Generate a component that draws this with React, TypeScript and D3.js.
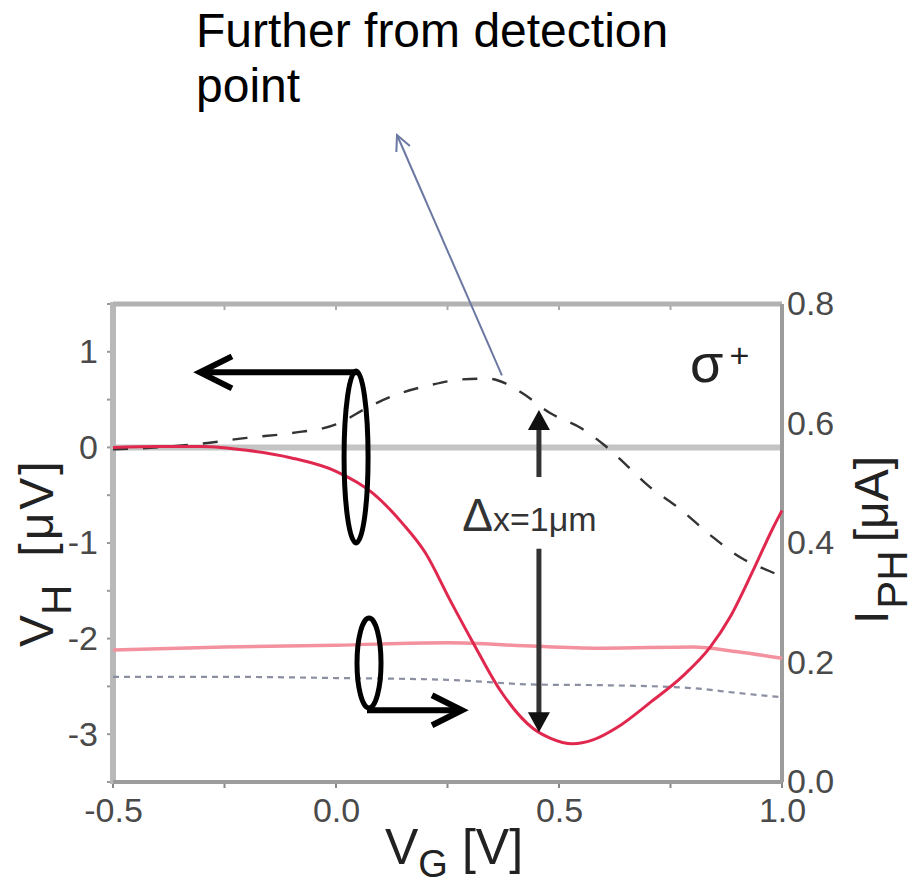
import * as d3 from "d3";
import { useEffect, useRef } from "react";

// V_H traces (left axis)
const nearX = [-0.5, -0.4, -0.3, -0.2, -0.1, 0.0, 0.083, 0.15, 0.2, 0.256, 0.307, 0.368, 0.442, 0.48, 0.531, 0.576, 0.63, 0.704, 0.778, 0.839, 0.883, 0.935, 0.98, 1.0];
const nearVH = [0.0, 0.01, 0.01, -0.03, -0.11, -0.25, -0.48, -0.8, -1.1, -1.6, -2.04, -2.54, -2.94, -3.04, -3.1, -3.06, -2.93, -2.67, -2.39, -2.09, -1.78, -1.29, -0.84, -0.66];

const farX = [-0.5, -0.4, -0.3, -0.2, -0.1, 0.0, 0.08, 0.14, 0.21, 0.28, 0.34, 0.38, 0.42, 0.48, 0.55, 0.6, 0.65, 0.7, 0.77, 0.84, 0.91, 0.97, 1.0];
const farVH = [-0.02, 0.0, 0.04, 0.1, 0.15, 0.24, 0.44, 0.56, 0.65, 0.71, 0.72, 0.67, 0.56, 0.36, 0.2, 0.03, -0.18, -0.4, -0.64, -0.92, -1.16, -1.29, -1.35];

// photocurrent traces (right axis)
const iphX = [-0.5, -0.25, 0.0, 0.25, 0.45, 0.6, 0.8, 0.9, 1.0];
const nearIPH = [0.221, 0.226, 0.229, 0.233, 0.227, 0.224, 0.226, 0.218, 0.207];
const farIPH = [0.176, 0.176, 0.174, 0.171, 0.163, 0.162, 0.157, 0.149, 0.142];

const xTicks = [-0.5, 0.0, 0.5, 1.0];
const xMinor = [-0.5, -0.25, 0, 0.25, 0.5, 0.75, 1.0];
const vhTicks = [-3, -2, -1, 0, 1];
const vhMinor = [-3.5, -3, -2.5, -2, -1.5, -1, -0.5, 0, 0.5, 1, 1.5];
const iphTicks = [0.0, 0.2, 0.4, 0.6, 0.8];

function App() {
    const ref = useRef<SVGSVGElement>(null);

    useEffect(() => {
        const svg = d3.select(ref.current);
        svg.selectAll("*").remove();

        const width = 917;
        const height = 888;
        const margin = { top: 304, right: 135, bottom: 106, left: 113 };
        const font = "'Liberation Sans', Arial, Helvetica, sans-serif";
        const tickColor = "#4a4a4a";

        const x = d3.scaleLinear().domain([-0.5, 1]).range([margin.left, width - margin.right]);
        const yL = d3.scaleLinear().domain([-3.5, 1.5]).range([height - margin.bottom, margin.top]);
        const yR = d3.scaleLinear().domain([0, 0.8]).range([height - margin.bottom, margin.top]);

        const x0 = x(-0.5), x1 = x(1), yTop = yL(1.5), yBot = yL(-3.5);

        // zero line
        svg.append("line")
            .attr("x1", x0).attr("x2", x1)
            .attr("y1", yL(0)).attr("y2", yL(0))
            .attr("stroke", "#c4c4c4").attr("stroke-width", 6);

        // minor ticks
        svg.append("g").selectAll("line").data(xMinor).enter().append("line")
            .attr("x1", (d) => x(d)).attr("x2", (d) => x(d))
            .attr("y1", yBot).attr("y2", yBot + 6)
            .attr("stroke", "#888").attr("stroke-width", 2);
        svg.append("g").selectAll("line").data(xMinor).enter().append("line")
            .attr("x1", (d) => x(d)).attr("x2", (d) => x(d))
            .attr("y1", yTop).attr("y2", yTop + 6)
            .attr("stroke", "#aaa").attr("stroke-width", 2);
        svg.append("g").selectAll("line").data(vhMinor).enter().append("line")
            .attr("x1", x0 - 6).attr("x2", x0)
            .attr("y1", (d) => yL(d)).attr("y2", (d) => yL(d))
            .attr("stroke", "#999").attr("stroke-width", 2);

        // frame
        svg.append("line").attr("x1", x0).attr("x2", x0).attr("y1", yTop - 2).attr("y2", yBot + 2)
            .attr("stroke", "#b8b8b8").attr("stroke-width", 6);
        svg.append("line").attr("x1", x0).attr("x2", x1).attr("y1", yTop).attr("y2", yTop)
            .attr("stroke", "#b2b2b2").attr("stroke-width", 5);
        svg.append("line").attr("x1", x1).attr("x2", x1).attr("y1", yTop).attr("y2", yBot)
            .attr("stroke", "#9c9c9c").attr("stroke-width", 4);
        svg.append("line").attr("x1", x0).attr("x2", x1).attr("y1", yBot).attr("y2", yBot)
            .attr("stroke", "#9c9c9c").attr("stroke-width", 4);

        const styleAxis = (g) => {
            g.select(".domain").remove();
            g.selectAll(".tick line").remove();
            g.selectAll("text")
                .attr("font-size", 34)
                .attr("font-family", font)
                .attr("fill", tickColor);
        };

        svg.append("g")
            .attr("transform", `translate(${x0}, 0)`)
            .call(d3.axisLeft(yL).tickValues(vhTicks).tickSize(5).tickPadding(10).tickFormat((d) => String(d)))
            .call(styleAxis);

        svg.append("g")
            .attr("transform", `translate(0, ${yBot})`)
            .call(d3.axisBottom(x).tickValues(xTicks).tickSize(5).tickPadding(11).tickFormat((d) => (+d).toFixed(1)))
            .call(styleAxis);

        svg.append("g")
            .attr("transform", `translate(${x1}, 0)`)
            .call(d3.axisRight(yR).tickValues(iphTicks).tickSize(0).tickPadding(5).tickFormat((d) => (+d).toFixed(1)))
            .call(styleAxis);

        // curves
        const lineL = d3.line().x((d) => x(d[0])).y((d) => yL(d[1])).curve(d3.curveMonotoneX);
        const lineR = d3.line().x((d) => x(d[0])).y((d) => yR(d[1])).curve(d3.curveMonotoneX);

        svg.append("path").datum(d3.zip(iphX, farIPH)).attr("d", lineR)
            .attr("fill", "none").attr("stroke", "#8a8fa2").attr("stroke-width", 2.2)
            .attr("stroke-dasharray", "6 5");
        svg.append("path").datum(d3.zip(iphX, nearIPH)).attr("d", lineR)
            .attr("fill", "none").attr("stroke", "#f3919f").attr("stroke-width", 3.5);
        svg.append("path").datum(d3.zip(farX, farVH)).attr("d", lineL)
            .attr("fill", "none").attr("stroke", "#333").attr("stroke-width", 2.4)
            .attr("stroke-dasharray", "15 15");
        svg.append("path").datum(d3.zip(nearX, nearVH)).attr("d", lineL)
            .attr("fill", "none").attr("stroke", "#e0284f").attr("stroke-width", 3);

        // upper ellipse with arrow to the left axis
        const e1x = x(0.045), e1y = yL(-0.1);
        svg.append("ellipse").attr("cx", e1x).attr("cy", e1y).attr("rx", 12).attr("ry", 86)
            .attr("fill", "none").attr("stroke", "#000").attr("stroke-width", 5);
        const a1y = yL(0.785), a1tip = x(-0.305);
        svg.append("path").attr("d", `M${e1x + 2},${a1y}H${a1tip + 3}`)
            .attr("stroke", "#000").attr("stroke-width", 6).attr("fill", "none");
        svg.append("path").attr("d", `M${a1tip + 32},${a1y - 16}L${a1tip},${a1y}L${a1tip + 32},${a1y + 16}`)
            .attr("stroke", "#000").attr("stroke-width", 6).attr("fill", "none").attr("stroke-linejoin", "miter");

        // lower ellipse with arrow to the right axis
        const e2x = x(0.074), e2y = yR(0.199);
        svg.append("ellipse").attr("cx", e2x).attr("cy", e2y).attr("rx", 12).attr("ry", 45)
            .attr("fill", "none").attr("stroke", "#000").attr("stroke-width", 5);
        const a2y = yR(0.12), a2tip = x(0.2825);
        svg.append("path").attr("d", `M${e2x - 2},${a2y}H${a2tip - 3}`)
            .attr("stroke", "#000").attr("stroke-width", 6).attr("fill", "none");
        svg.append("path").attr("d", `M${a2tip - 30},${a2y - 15}L${a2tip},${a2y}L${a2tip - 30},${a2y + 15}`)
            .attr("stroke", "#000").attr("stroke-width", 6).attr("fill", "none");

        // delta-x double arrow
        const dx = x(0.455);
        const upTip = yL(0.39), upEnd = yL(-0.31), dnStart = yL(-1.06), dnTip = yL(-2.98);
        svg.append("line").attr("x1", dx).attr("x2", dx).attr("y1", upTip + 15).attr("y2", upEnd)
            .attr("stroke", "#333").attr("stroke-width", 5);
        svg.append("path").attr("d", `M${dx},${upTip}L${dx - 11},${upTip + 20}L${dx + 11},${upTip + 20}Z`).attr("fill", "#111");
        svg.append("line").attr("x1", dx).attr("x2", dx).attr("y1", dnStart).attr("y2", dnTip - 15)
            .attr("stroke", "#333").attr("stroke-width", 5);
        svg.append("path").attr("d", `M${dx},${dnTip}L${dx - 11},${dnTip - 20}L${dx + 11},${dnTip - 20}Z`).attr("fill", "#111");

        const dText = svg.append("text").attr("x", x(0.283)).attr("y", yL(-0.87))
            .attr("font-family", font).attr("fill", "#333");
        dText.append("tspan").attr("font-size", 46).text("Δ");
        dText.append("tspan").attr("font-size", 34).text("x=1μm");

        // sigma+
        const sg = svg.append("text").attr("x", x(0.794)).attr("y", yL(0.68))
            .attr("font-family", font).attr("fill", "#222");
        sg.append("tspan").attr("font-size", 54).text("σ");
        sg.append("tspan").attr("font-size", 34).attr("dx", 6).attr("dy", -15).text("+");

        // axis titles
        const tL = svg.append("text").attr("transform", `translate(53, 647) rotate(-90)`)
            .attr("font-family", font).attr("fill", "#222");
        tL.append("tspan").attr("font-size", 48).text("V");
        tL.append("tspan").attr("font-size", 42).attr("dy", 18).text("H");
        tL.append("tspan").attr("font-size", 48).attr("dy", -18).attr("dx", 28).attr("letter-spacing", 3).text("[μV]");

        const tR = svg.append("text").attr("transform", `translate(888, 624) rotate(-90)`)
            .attr("font-family", font).attr("fill", "#222");
        tR.append("tspan").attr("font-size", 48).text("I");
        tR.append("tspan").attr("font-size", 42).attr("dy", 19).attr("dx", 2).text("PH");
        tR.append("tspan").attr("font-size", 48).attr("dy", -19).attr("dx", 8).text("[μA]");

        const tB = svg.append("text").attr("x", 385).attr("y", 864)
            .attr("font-family", font).attr("fill", "#222");
        tB.append("tspan").attr("font-size", 50).text("V");
        tB.append("tspan").attr("font-size", 38).attr("dy", 13).text("G");
        tB.append("tspan").attr("font-size", 50).attr("dy", -13).attr("dx", 14).text("[V]");

        // callout
        svg.append("text").attr("x", 196).attr("y", 47).attr("font-family", font)
            .attr("font-size", 48).attr("fill", "#000").text("Further from detection");
        svg.append("text").attr("x", 196).attr("y", 102).attr("font-family", font)
            .attr("font-size", 48).attr("fill", "#000").text("point");

        const tail = [x(0.372), yL(0.753)];
        const tip = [397, 135];
        const ang = Math.atan2(tail[1] - tip[1], tail[0] - tip[0]);
        const headLen = 17;
        const spread = 0.45;
        svg.append("line").attr("x1", tail[0]).attr("y1", tail[1]).attr("x2", tip[0]).attr("y2", tip[1])
            .attr("stroke", "#6a78a2").attr("stroke-width", 2);
        svg.append("path")
            .attr("d", `M${tip[0] + headLen * Math.cos(ang - spread)},${tip[1] + headLen * Math.sin(ang - spread)}L${tip[0]},${tip[1]}L${tip[0] + headLen * Math.cos(ang + spread)},${tip[1] + headLen * Math.sin(ang + spread)}`)
            .attr("fill", "none").attr("stroke", "#6a78a2").attr("stroke-width", 2);
    }, []);

    return (
        <svg
            ref={ref}
            width={917}
            height={888}
            style={{ position: "absolute", left: 0, top: 0, background: "#fff" }}
        ></svg>
    );
}

export default App;
